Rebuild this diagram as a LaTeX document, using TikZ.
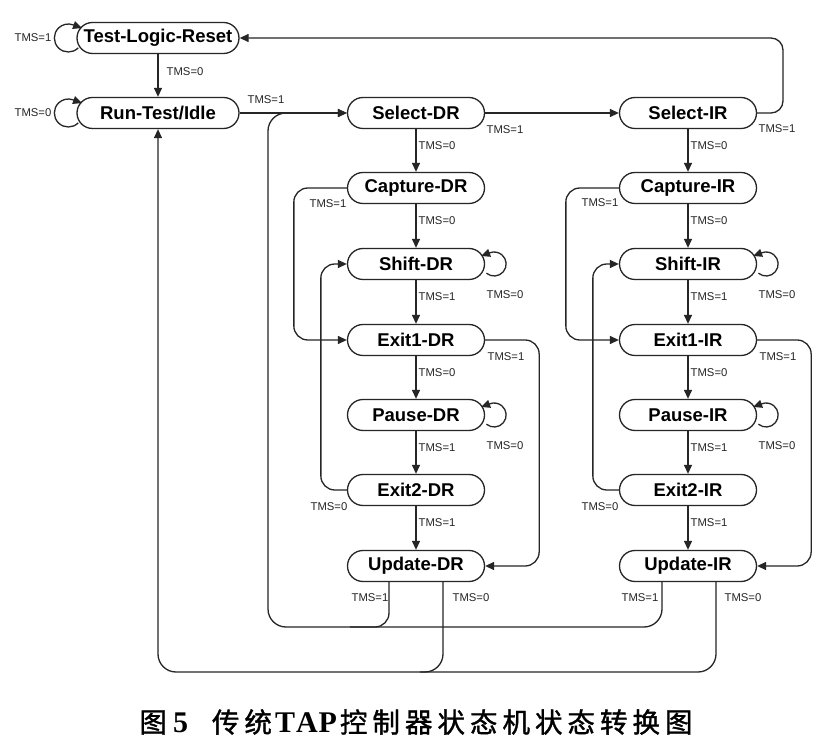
\documentclass[tikz,border=0pt]{standalone}
\usepackage{fontspec}
\setmainfont{Liberation Sans}
\newfontfamily\cjk{Noto Sans CJK SC}[FakeBold=1.3]
\newfontfamily\capserif{Liberation Serif}
\usetikzlibrary{arrows.meta,calc}
\begin{document}
\begin{tikzpicture}[x=1pt,y=1pt,
  state/.style={draw=black!85, line width=1.3pt, rounded corners=15.5pt, minimum width=137pt, minimum height=31pt, inner sep=0pt, font=\fontsize{18.5}{20}\selectfont\bfseries},
  wide/.style={minimum width=162pt},
  lbl/.style={font=\fontsize{11.3}{12}\selectfont, inner sep=0pt, text=black!85},
  link/.style={line width=1.3pt, draw=black!85, -{Triangle[length=9pt,width=8pt]}},
  plain/.style={line width=1.3pt, draw=black!85},
  rc/.style={rounded corners=14pt}]
\useasboundingbox (0,0) rectangle (836,748);
\fill[white] (0,0) rectangle (836,748);

% states
\node[state,wide] (TLR) at (158,710) {Test-Logic-Reset};
\node[state,wide] (RTI) at (158,635) {Run-Test/Idle};
\node[state] (SDR) at (416,635) {Select-DR};
\node[state] (CDR) at (416,560) {Capture-DR};
\node[state] (ShDR) at (416,484) {Shift-DR};
\node[state] (E1DR) at (416,408) {Exit1-DR};
\node[state] (PDR) at (416,333) {Pause-DR};
\node[state] (E2DR) at (416,258) {Exit2-DR};
\node[state] (UDR) at (416,182) {Update-DR};
\node[state] (SIR) at (688,635) {Select-IR};
\node[state] (CIR) at (688,560) {Capture-IR};
\node[state] (ShIR) at (688,484) {Shift-IR};
\node[state] (E1IR) at (688,408) {Exit1-IR};
\node[state] (PIR) at (688,333) {Pause-IR};
\node[state] (E2IR) at (688,258) {Exit2-IR};
\node[state] (UIR) at (688,182) {Update-IR};

% self loops (left): circle of radius 14 left of the node, clockwise, tip at top
\foreach \n in {TLR,RTI}{
  \draw[plain] ([xshift=-8pt]\n.west) ++(-45:14) arc[start angle=-45, end angle=-290, radius=14];
  \draw[link] ([xshift=-8pt]\n.west) ++(70:14) -- ++(-20:9.5);
}
\node[lbl] at (33,710) {TMS=1};
\node[lbl] at (33,635) {TMS=0};

% self loops (right): counter-clockwise, tip at top entering the node
\foreach \n in {ShDR,PDR,ShIR,PIR}{
  \draw[plain] ([xshift=9pt]\n.east) ++(-130:12) arc[start angle=-130, end angle=110, radius=12];
  \draw[link] ([xshift=9pt]\n.east) ++(110:12) -- ++(200:9.5);
}
\node[lbl] at (505,453) {TMS=0};
\node[lbl] at (505,302) {TMS=0};
\node[lbl] at (777,453) {TMS=0};
\node[lbl] at (777,302) {TMS=0};

% vertical links
\draw[link] (TLR) -- node[lbl, anchor=west, pos=.4, xshift=8pt]{TMS=0} (RTI);
\foreach \a/\b/\t in {SDR/CDR/0,CDR/ShDR/0,ShDR/E1DR/1,E1DR/PDR/0,PDR/E2DR/1,E2DR/UDR/1,
                      SIR/CIR/0,CIR/ShIR/0,ShIR/E1IR/1,E1IR/PIR/0,PIR/E2IR/1,E2IR/UIR/1}{
  \draw[link] (\a) -- node[lbl, anchor=west, pos=.38, xshift=2pt]{TMS=\t} (\b);
}

% horizontal links
\draw[link] (RTI) -- (SDR);
\node[lbl] at (266,648) {TMS=1};
\draw[link] (SDR) -- (SIR);
\node[lbl] at (505,618) {TMS=1};
\coordinate (trc) at (783,710);
\draw[link, rounded corners=12pt] (SIR.east) -| (trc) -- (TLR.east);
\node[lbl] at (777,619) {TMS=1};

% DR column side loops
\draw[link, rc] (CDR.west) -| ([xshift=-53pt]E1DR.west) -- (E1DR.west);
\node[lbl] at (328,544) {TMS=1};
\draw[link, rc] (E2DR.west) -| ([xshift=-26pt]ShDR.west) -- (ShDR.west);
\node[lbl] at (329,241) {TMS=0};
\draw[link, rc] (E1DR.east) -| ([xshift=54pt]UDR.east) -- (UDR.east);
\node[lbl] at (506,391) {TMS=1};

% IR column side loops
\draw[link, rc] (CIR.west) -| ([xshift=-53pt]E1IR.west) -- (E1IR.west);
\node[lbl] at (600,545) {TMS=1};
\draw[link, rc] (E2IR.west) -| ([xshift=-26pt]ShIR.west) -- (ShIR.west);
\node[lbl] at (600,241) {TMS=0};
\draw[link, rc] (E1IR.east) -| ([xshift=54pt]UIR.east) -- (UIR.east);
\node[lbl] at (778,391) {TMS=1};

% return paths from Update states
\coordinate (bl1) at (268,121);
\coordinate (bl2) at (158,76);
\coordinate (bm1) at (350,121);
\coordinate (bm2) at (420,76);
\draw[link, rounded corners=18pt] ([xshift=-26pt]UIR.south) |- (bl1) |- (SDR.west);
\draw[plain, rc] ([xshift=-27pt]UDR.south) |- (bm1);
\draw[link, rounded corners=18pt] ([xshift=27pt]UDR.south) |- (bl2) -- (RTI.south);
\draw[plain, rounded corners=18pt] ([xshift=28pt]UIR.south) |- (bm2);
\node[lbl] at (370,150) {TMS=1};
\node[lbl] at (471,150) {TMS=0};
\node[lbl] at (640,150) {TMS=1};
\node[lbl] at (743,150) {TMS=0};

% caption
\def\g{\hspace{5pt}}
\node[inner sep=0pt] (cap) at (416,26) {\cjk\fontsize{27.5}{30}\selectfont 图\hspace{6pt}{\capserif\bfseries\fontsize{30}{30}\selectfont 5}\hspace{24pt}传\g 统\hspace{3pt}{\capserif\bfseries\fontsize{30}{30}\selectfont T\hspace{1pt}A\hspace{1pt}P}\hspace{3pt}控\g 制\g 器\g 状\g 态\g 机\g 状\g 态\g 转\g 换\g 图};
\end{tikzpicture}
\end{document}
